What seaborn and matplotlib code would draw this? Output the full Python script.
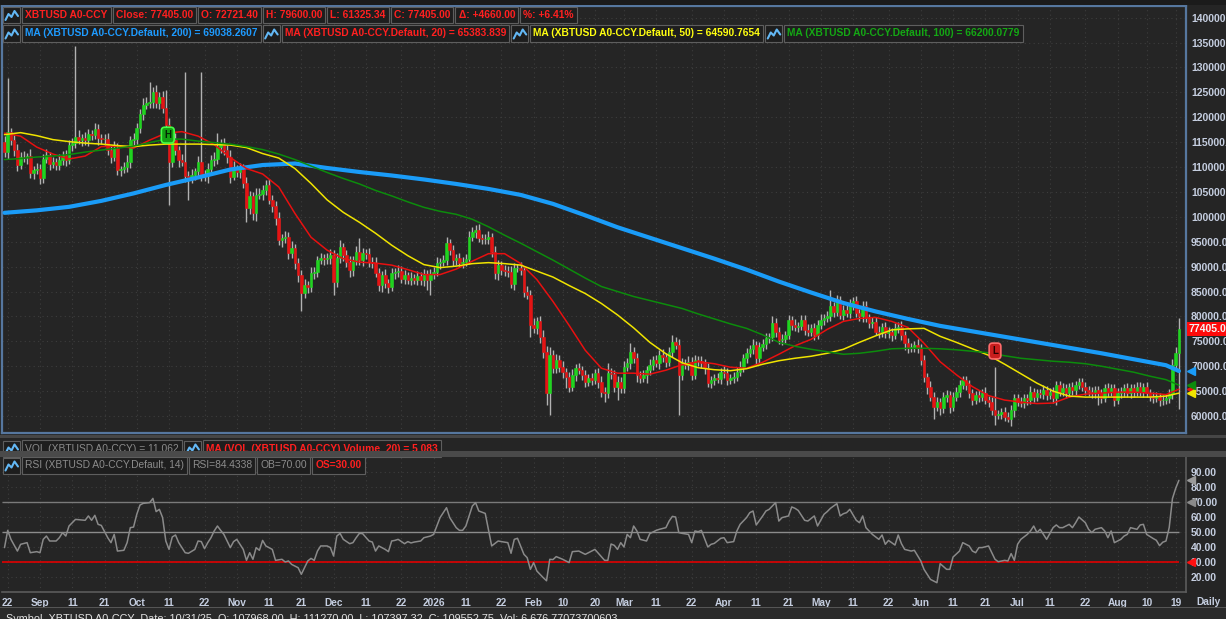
import numpy as np
import pandas as pd
import seaborn as sns
import matplotlib.pyplot as plt
import matplotlib.dates as mdates
from matplotlib.patches import Rectangle
from matplotlib.lines import Line2D
from matplotlib.transforms import blended_transform_factory as blend

# daily closes XBTUSD A0-CCY (thousand USD), first day 2025-08-21
closes = [
    113.0, 117.1, 115.4, 113.4, 110.4, 112.1, 112.0, 112.2, 108.7, 109.4,
    109.7, 107.7, 111.7, 112.4, 110.7, 111.0, 110.4, 111.4, 112.4, 111.5,
    114.4, 114.9, 116.1, 115.4, 115.8, 115.4, 116.6, 116.4, 117.6, 115.8,
    115.6, 115.7, 113.4, 112.1, 113.8, 109.4, 109.5, 110.0, 111.1, 115.4,
    115.6, 117.8, 120.7, 122.5, 122.9, 123.1, 125.1, 122.8, 124.1, 121.8,
    118.4, 111.1, 115.4, 113.4, 111.4, 111.1, 108.1, 107.7, 108.4, 109.1,
    111.1, 108.4, 108.1, 109.7, 111.4, 111.7, 114.1, 114.8, 113.4, 112.1,
    107.968, 109.55275, 109.0, 109.6, 106.7, 101.7, 104.1, 100.7, 104.4, 104.5,
    105.4, 106.4, 103.4, 102.1, 99.7, 95.4, 95.7, 96.0, 92.7, 93.7,
    90.7, 88.3, 84.7, 86.3, 85.9, 88.7, 89.0, 91.3, 91.7, 91.5,
    91.7, 92.4, 87.0, 91.7, 94.0, 92.4, 91.0, 89.3, 91.3, 93.0,
    91.3, 92.8, 92.5, 91.0, 90.8, 88.7, 86.3, 88.3, 86.7, 86.0,
    88.7, 89.0, 89.2, 87.6, 88.3, 87.4, 87.8, 87.4, 88.1, 87.3,
    88.5, 87.3, 88.5, 89.0, 90.7, 91.0, 91.3, 94.7, 93.3, 91.3,
    91.7, 90.8, 91.0, 91.5, 96.0, 97.0, 97.4, 95.7, 95.5, 95.6,
    95.9, 93.0, 88.7, 90.3, 89.3, 89.2, 89.0, 86.6, 89.7, 89.8,
    89.3, 85.0, 84.3, 78.3, 77.6, 79.0, 75.9, 72.9, 64.6, 72.3,
    69.6, 71.3, 69.9, 68.9, 67.9, 65.9, 68.2, 69.6, 69.2, 68.2,
    66.9, 67.6, 67.2, 68.6, 66.9, 64.9, 64.6, 68.6, 68.4, 65.9,
    66.9, 65.6, 69.9, 70.6, 72.9, 71.6, 68.2, 67.6, 68.2, 69.2,
    70.3, 71.3, 70.6, 72.3, 71.8, 70.9, 72.9, 74.9, 74.3, 68.2,
    70.6, 70.3, 70.9, 68.2, 71.3, 71.0, 70.6, 69.6, 66.6, 67.2,
    67.6, 67.4, 68.9, 68.7, 67.2, 67.6, 67.9, 68.9, 69.9, 71.6,
    72.6, 73.4, 74.3, 71.6, 73.9, 74.5, 75.6, 75.9, 78.6, 76.9,
    75.3, 75.4, 76.3, 79.2, 78.3, 77.9, 78.1, 79.3, 77.3, 76.9,
    77.6, 76.3, 78.3, 79.3, 79.6, 80.0, 82.0, 80.9, 83.3, 80.3,
    81.3, 80.6, 82.3, 83.0, 80.6, 80.0, 82.0, 79.6, 78.6, 78.9,
    76.9, 76.6, 77.9, 76.6, 76.9, 76.3, 77.6, 77.9, 76.3, 74.6,
    73.6, 73.8, 74.3, 73.6, 71.3, 67.9, 65.9, 63.9, 61.9, 62.9,
    61.6, 63.9, 64.2, 61.9, 63.9, 64.9, 66.2, 67.2, 66.2, 64.6,
    63.2, 64.2, 63.9, 64.6, 63.2, 62.9, 61.2, 60.2, 60.4, 60.9,
    59.9, 59.5, 61.2, 63.6, 62.9, 62.6, 63.6, 63.2, 64.9, 63.9,
    64.6, 64.4, 65.2, 64.2, 64.9, 63.6, 66.2, 64.9, 65.6, 64.6,
    65.9, 65.2, 66.2, 66.9, 65.9, 65.2, 64.9, 64.6, 65.2, 64.6,
    63.6, 65.6, 64.9, 65.6, 63.2, 64.6, 64.9, 65.6, 64.6, 65.6,
    64.9, 65.9, 64.9, 65.9, 64.6, 63.9, 63.6, 63.9, 63.2, 63.3,
    63.6, 64.5, 70.2, 72.745, 77.405,
]
first_open = 115.0
last_open = 72721.40

# wick length above / below the candle body (thousand USD)
upper_wick = [
    1.2, 10.8, 0.8, 1.0, 1.3, 0.9, 1.1, 0.6, 1.4, 0.8,
    1.2, 0.9, 1.0, 1.3, 0.7, 1.1, 0.8, 1.2, 0.9, 1.0,
    1.1, 0.9, 18.1, 1.4, 0.8, 1.2, 1.0, 0.9, 1.3, 1.1,
    0.8, 1.0, 1.2, 0.9, 1.4, 1.0, 0.8, 1.1, 1.3, 0.9,
    1.2, 1.0, 0.9, 1.4, 1.1, 4.0, 0.9, 1.3, 1.0, 1.2,
    3.7, 1.5, 1.1, 1.4, 0.9, 1.2, 18.0, 1.0, 1.3, 0.8,
    1.1, 18.0, 0.9, 1.2, 1.0, 1.3, 2.7, 0.8, 1.1, 1.0,
    1.4, 1.71725, 0.9, 1.2, 1.0, 1.3, 1.1, 0.9, 1.4, 1.2,
    1.0, 1.0, 1.2, 0.9, 1.1, 1.3, 0.8, 1.2, 1.0, 1.4,
    0.9, 1.1, 1.0, 1.3, 0.8, 1.2, 1.0, 0.9, 1.1, 0.8,
    1.0, 1.2, 0.9, 1.1, 1.3, 0.8, 1.0, 1.2, 0.9, 1.1,
    2.7, 1.0, 0.8, 1.2, 0.9, 1.1, 1.0, 0.8, 1.2, 0.9,
    1.0, 0.8, 1.1, 0.9, 1.0, 0.7, 1.2, 0.8, 1.0, 0.9,
    1.1, 0.8, 1.0, 0.9, 1.2, 0.8, 1.0, 1.3, 0.9, 1.1,
    0.8, 1.0, 0.9, 1.1, 1.2, 0.9, 1.0, 1.1, 0.8, 1.0,
    1.2, 0.9, 1.1, 1.0, 0.8, 1.1, 0.9, 1.2, 1.0, 0.8,
    1.1, 0.9, 1.2, 1.0, 1.3, 0.9, 1.1, 1.4, 1.2, 1.6,
    1.0, 1.2, 0.9, 1.1, 0.8, 1.0, 1.2, 0.9, 1.1, 0.8,
    1.0, 0.9, 1.1, 0.8, 1.0, 1.2, 0.9, 2.0, 1.0, 0.8,
    1.1, 0.9, 1.2, 1.0, 1.7, 0.9, 1.1, 0.8, 1.0, 0.9,
    1.1, 0.8, 1.0, 0.9, 1.2, 0.8, 1.0, 1.4, 0.9, 1.1,
    1.0, 0.8, 1.1, 0.9, 1.0, 0.8, 1.0, 0.9, 1.1, 0.8,
    0.9, 1.0, 0.8, 1.1, 0.9, 0.8, 1.0, 0.9, 1.1, 0.8,
    1.0, 0.9, 1.2, 0.8, 1.0, 0.9, 1.1, 0.8, 1.4, 1.0,
    0.9, 1.1, 0.8, 1.0, 0.9, 1.1, 0.8, 1.0, 0.9, 1.2,
    0.8, 1.0, 0.9, 1.1, 0.8, 1.0, 3.3, 0.9, 1.1, 0.8,
    1.0, 0.9, 1.1, 0.8, 1.0, 0.9, 1.0, 1.1, 0.8, 1.0,
    0.9, 1.1, 0.8, 1.0, 0.9, 0.8, 1.0, 0.9, 1.1, 0.8,
    1.0, 0.9, 0.8, 1.1, 0.9, 1.0, 0.8, 1.1, 0.9, 1.0,
    0.8, 0.9, 1.1, 0.8, 1.0, 0.9, 1.1, 0.9, 0.8, 1.0,
    0.9, 0.8, 1.0, 0.9, 1.2, 0.8, 1.0, 8.7, 0.9, 0.8,
    1.0, 0.9, 1.1, 0.8, 0.9, 1.0, 0.8, 0.9, 1.1, 0.8,
    0.9, 0.8, 1.0, 0.9, 0.8, 1.0, 0.9, 0.8, 1.0, 0.9,
    0.8, 1.0, 0.9, 0.8, 0.7, 0.9, 0.8, 1.0, 0.9, 0.8,
    0.9, 0.8, 1.0, 0.9, 0.8, 1.0, 0.9, 0.8, 1.0, 0.9,
    0.8, 0.9, 1.0, 0.8, 0.9, 0.8, 1.0, 0.9, 0.8, 0.9,
    0.8, 1.0, 1.2, 1.1, 2.195,
]
lower_wick = [
    1.0, 1.3, 0.9, 1.1, 1.2, 0.8, 1.0, 1.3, 0.9, 1.1,
    0.8, 1.2, 1.0, 0.9, 1.3, 0.8, 1.1, 1.0, 0.9, 1.2,
    0.9, 1.1, 1.0, 0.8, 1.2, 0.9, 1.1, 1.0, 0.8, 1.3,
    0.9, 1.1, 1.0, 1.2, 0.9, 1.1, 1.3, 0.8, 1.0, 1.2,
    1.0, 1.1, 0.9, 1.2, 0.8, 1.0, 1.3, 0.9, 1.1, 1.0,
    1.2, 8.7, 1.1, 1.0, 1.3, 0.9, 1.2, 4.3, 1.0, 1.1,
    0.9, 1.2, 1.0, 1.3, 0.9, 1.1, 1.0, 1.2, 0.9, 1.3,
    1.1, 0.57068, 1.0, 1.2, 0.9, 2.7, 1.1, 1.3, 1.6, 0.9,
    1.2, 1.0, 0.9, 1.1, 1.3, 1.0, 1.4, 0.9, 1.2, 1.0,
    1.1, 1.3, 3.7, 1.0, 1.2, 0.9, 1.1, 1.0, 0.8, 1.2,
    0.9, 1.1, 2.7, 1.0, 0.9, 1.2, 1.0, 1.3, 1.1, 0.9,
    1.0, 1.2, 0.9, 1.1, 1.0, 0.8, 1.2, 1.4, 1.0, 1.3,
    0.9, 1.1, 1.0, 0.8, 1.0, 0.9, 1.1, 0.8, 1.0, 0.9,
    1.1, 2.0, 2.9, 1.0, 0.9, 1.1, 0.8, 1.0, 0.9, 1.1,
    1.0, 0.9, 1.1, 0.8, 1.0, 0.9, 1.2, 0.8, 1.0, 0.9,
    1.1, 1.0, 1.2, 1.4, 0.9, 1.1, 1.0, 0.9, 1.2, 0.8,
    1.0, 1.1, 0.9, 2.4, 1.0, 1.1, 1.3, 1.2, 2.4, 4.4,
    1.0, 0.9, 1.1, 1.2, 2.3, 1.0, 0.9, 1.1, 0.8, 1.0,
    1.1, 0.9, 1.0, 0.8, 1.2, 1.0, 1.7, 0.9, 1.0, 1.1,
    2.7, 0.9, 1.0, 0.8, 1.1, 0.9, 1.3, 1.0, 0.8, 1.5,
    0.9, 1.0, 0.8, 1.1, 0.9, 1.0, 0.8, 1.1, 0.9, 8.0,
    1.0, 0.9, 1.1, 1.0, 0.8, 1.0, 0.9, 1.1, 0.7, 0.9,
    1.0, 0.8, 0.9, 1.1, 0.9, 0.8, 1.0, 0.9, 0.8, 1.0,
    0.9, 0.8, 1.0, 1.1, 0.9, 0.8, 1.0, 0.9, 0.8, 1.0,
    0.9, 1.0, 0.8, 0.9, 1.1, 0.8, 1.0, 0.9, 1.0, 0.8,
    0.9, 1.0, 0.8, 0.9, 1.0, 0.8, 0.9, 1.0, 0.8, 0.9,
    1.0, 0.8, 0.9, 1.0, 0.8, 0.9, 1.1, 0.8, 0.9, 1.0,
    0.6, 0.9, 0.8, 1.0, 0.9, 1.2, 0.8, 0.9, 1.0, 1.4,
    0.9, 0.8, 1.0, 0.9, 1.1, 1.0, 1.4, 0.9, 2.4, 0.8,
    1.3, 0.9, 1.0, 1.2, 0.8, 0.9, 1.0, 0.8, 0.9, 1.0,
    0.9, 0.8, 1.0, 0.9, 0.8, 1.0, 0.9, 2.0, 0.8, 0.9,
    1.0, 0.8, 1.6, 1.3, 0.9, 0.8, 1.0, 0.9, 0.8, 1.0,
    0.9, 0.8, 1.0, 0.9, 0.8, 1.0, 1.4, 0.8, 0.9, 1.0,
    0.8, 0.9, 1.0, 0.8, 0.9, 1.0, 0.8, 0.9, 1.0, 2.4,
    0.9, 0.8, 1.0, 0.9, 1.1, 0.8, 0.9, 1.0, 0.8, 0.9,
    1.0, 0.8, 0.9, 1.0, 0.8, 0.9, 1.0, 0.8, 1.2, 0.9,
    0.8, 0.9, 1.0, 0.8, 11.396,
]

# moving averages every 5 days (thousand USD)
ma_days = list(range(0, 361, 5)) + [364]
ma20 = [116.8, 116.2, 114.0, 112.6, 111.6, 112.2, 114.1, 114.2, 113.8, 115.4,
        116.8, 117.1, 116.2, 114.5, 111.9, 109.7, 108.6, 106.0, 100.7, 95.9,
        93.3, 91.6, 90.9, 90.7, 90.3, 89.4, 88.4, 88.4, 89.5, 91.1,
        92.6, 92.6, 90.6, 87.4, 83.0, 78.2, 73.2, 69.6, 68.6, 68.6,
        68.4, 69.2, 70.3, 70.9, 70.5, 69.8, 69.6, 70.8, 72.4, 74.1,
        75.4, 77.4, 79.0, 79.6, 79.8, 79.0, 77.8, 74.6, 70.9, 68.3,
        65.9, 64.1, 63.2, 62.8, 62.5, 62.6, 63.8, 64.4, 64.6, 64.8,
        64.8, 64.6, 64.3, 65.383839]
ma50 = [116.5, 116.9, 116.3, 115.5, 115.1, 114.8, 114.6, 114.3, 114.1, 114.4,
        114.6, 114.6, 114.6, 114.5, 114.4, 113.9, 112.7, 111.8, 109.7, 106.7,
        103.4, 100.9, 98.9, 96.7, 94.3, 92.2, 90.4, 89.8, 90.1, 90.6,
        90.8, 90.6, 90.3, 89.1, 87.9, 86.2, 84.6, 82.6, 80.3, 77.7,
        74.8, 72.5, 70.7, 69.7, 69.3, 69.1, 69.5, 70.4, 71.1, 71.6,
        72.0, 72.6, 73.4, 74.8, 76.1, 77.3, 77.5, 77.6, 76.0, 74.8,
        73.5, 72.2, 70.4, 68.5, 66.6, 65.0, 64.0, 63.8, 63.8, 63.8,
        63.8, 63.8, 64.0, 64.5907654]
ma100 = [111.5, 111.7, 112.0, 112.2, 112.5, 113.0, 113.4, 113.8, 114.2, 114.9,
         115.6, 115.6, 115.2, 114.9, 114.6, 114.1, 113.5, 112.6, 111.5, 110.2,
         108.9, 107.7, 106.6, 105.3, 104.2, 103.0, 101.9, 101.1, 100.5, 99.5,
         98.0, 96.3, 94.7, 93.0, 91.3, 89.5, 87.7, 86.0, 85.0, 84.0,
         83.2, 82.4, 81.6, 80.5, 79.5, 78.5, 77.6, 76.3, 74.8, 74.0,
         73.4, 72.9, 72.4, 72.6, 73.0, 73.5, 73.6, 73.6, 73.5, 73.3,
         73.0, 72.7, 72.1, 71.6, 71.3, 71.0, 70.8, 70.5, 70.0, 69.4,
         68.8, 68.0, 67.3, 66.2000779]
ma200_days = list(range(0, 361, 10)) + [364]
ma200 = [100.8, 101.3, 102.0, 103.2, 104.7, 106.4, 107.9, 109.5, 110.4, 110.7,
         109.8, 109.0, 108.3, 107.5, 106.6, 105.6, 104.4, 102.6, 100.3, 97.9,
         95.8, 93.7, 91.6, 89.4, 87.0, 84.8, 82.7, 81.0, 79.5, 78.1,
         77.0, 75.9, 74.8, 73.7, 72.6, 71.4, 70.2, 69.0382607]

# RSI(14)
rsi_days = [
    0, 1, 2, 4, 5, 7, 8, 10, 11, 12,
    13, 14, 16, 17, 18, 19, 20, 21, 22, 24,
    25, 26, 27, 28, 29, 30, 32, 33, 34, 35,
    37, 38, 39, 40, 41, 42, 43, 45, 46, 47,
    48, 49, 50, 51, 52, 53, 54, 55, 56, 57,
    59, 60, 61, 62, 63, 64, 65, 66, 67, 68,
    70, 71, 72, 74, 75, 76, 77, 78, 79, 80,
    81, 83, 84, 86, 87, 88, 89, 91, 92, 94,
    95, 96, 97, 98, 100, 101, 102, 103, 104, 105,
    107, 108, 109, 110, 111, 113, 114, 115, 116, 118,
    119, 120, 121, 122, 124, 125, 126, 127, 129, 130,
    132, 133, 134, 135, 137, 138, 140, 141, 142, 143,
    145, 146, 147, 149, 151, 153, 154, 156, 157, 158,
    159, 161, 162, 163, 164, 165, 167, 168, 169, 170,
    171, 173, 175, 176, 178, 180, 182, 183, 186, 187,
    188, 189, 190, 191, 192, 193, 194, 195, 196, 197,
    199, 200, 201, 202, 203, 205, 206, 207, 208, 209,
    210, 212, 213, 214, 215, 216, 218, 219, 220, 222,
    223, 224, 226, 227, 228, 230, 231, 232, 233, 235,
    236, 237, 239, 240, 241, 243, 244, 245, 246, 248,
    249, 251, 252, 254, 255, 256, 258, 259, 260, 261,
    262, 264, 265, 266, 267, 269, 271, 272, 273, 274,
    276, 277, 278, 279, 281, 282, 284, 285, 286, 287,
    289, 290, 292, 293, 294, 296, 297, 299, 300, 301,
    302, 303, 305, 306, 307, 308, 310, 311, 312, 313,
    314, 315, 317, 318, 319, 320, 321, 322, 323, 325,
    326, 327, 328, 330, 331, 332, 333, 335, 336, 337,
    338, 340, 341, 342, 343, 344, 346, 347, 348, 349,
    351, 352, 353, 354, 356, 357, 358, 359, 360, 361,
    362, 363, 364,
]
rsi_vals = [
    39.6, 51.1, 45.1, 37.3, 41.8, 42.9, 36.2, 36.9, 36.2, 45.1,
    47.3, 44.0, 44.0, 46.2, 49.6, 47.3, 54.0, 56.2, 58.4, 58.0,
    57.8, 60.7, 57.8, 61.1, 55.1, 54.4, 46.2, 42.9, 48.4, 37.3,
    37.8, 42.9, 52.9, 53.3, 61.8, 68.0, 69.1, 69.6, 72.4, 63.6,
    65.1, 59.6, 44.0, 38.4, 46.7, 48.0, 42.9, 39.6, 36.2, 35.8,
    38.4, 44.0, 43.6, 38.9, 42.9, 46.2, 50.7, 54.0, 51.1, 48.4,
    39.6, 43.6, 45.1, 38.4, 31.1, 36.2, 31.8, 39.6, 37.8, 44.4,
    40.7, 38.4, 31.1, 31.8, 30.0, 30.7, 28.4, 26.2, 21.8, 30.7,
    32.4, 31.1, 37.3, 40.7, 40.7, 39.6, 34.0, 47.3, 49.1, 45.1,
    42.2, 42.9, 46.2, 49.1, 48.9, 44.0, 43.3, 37.3, 40.7, 38.4,
    36.9, 44.0, 44.4, 45.1, 42.2, 43.6, 42.7, 43.3, 44.0, 46.2,
    47.3, 48.4, 54.0, 59.6, 66.2, 59.6, 52.9, 51.1, 51.1, 54.0,
    67.3, 69.6, 64.0, 62.4, 40.7, 44.0, 43.6, 42.9, 35.8, 45.1,
    45.8, 35.1, 32.9, 25.1, 29.6, 24.0, 19.5, 17.5, 31.8, 31.6,
    33.6, 31.8, 29.6, 36.9, 37.3, 35.1, 37.3, 38.4, 31.1, 31.1,
    42.0, 41.1, 38.4, 42.9, 40.0, 48.4, 46.2, 54.0, 50.7, 45.1,
    44.0, 48.9, 50.0, 51.1, 51.8, 52.9, 57.3, 60.4, 60.0, 49.6,
    49.1, 48.4, 42.9, 50.7, 50.2, 51.1, 40.0, 41.8, 42.4, 45.8,
    46.2, 42.9, 43.6, 50.7, 55.1, 59.6, 62.9, 64.0, 54.7, 60.7,
    64.0, 65.1, 69.6, 57.3, 59.6, 60.7, 66.7, 65.8, 64.4, 57.8,
    57.3, 60.7, 54.0, 61.8, 63.6, 65.8, 68.9, 60.7, 62.2, 62.9,
    65.1, 57.8, 56.2, 60.7, 52.9, 48.4, 45.1, 48.0, 41.8, 44.4,
    41.3, 48.0, 42.2, 38.4, 37.3, 37.8, 30.7, 25.1, 21.8, 18.4,
    16.2, 28.9, 25.1, 25.1, 33.3, 37.3, 42.9, 40.7, 37.3, 36.2,
    39.6, 39.6, 40.7, 36.2, 31.8, 30.2, 31.1, 30.7, 35.6, 31.1,
    41.8, 45.1, 48.4, 50.7, 54.0, 49.6, 51.8, 48.4, 45.1, 52.9,
    54.7, 52.9, 52.9, 55.1, 52.9, 56.2, 60.0, 56.2, 51.8, 49.6,
    51.8, 52.9, 50.7, 46.2, 50.7, 42.9, 45.1, 47.3, 48.4, 52.9,
    51.8, 54.7, 55.1, 48.4, 45.7, 44.5, 40.9, 43.2, 44.0, 53.0,
    72.3, 79.1, 84.4338,
]

tick_dates = ["2025-08-22", "2025-09-01", "2025-09-11", "2025-09-21", "2025-10-01",
              "2025-10-11", "2025-10-22", "2025-11-01", "2025-11-11", "2025-11-21",
              "2025-12-01", "2025-12-11", "2025-12-22", "2026-01-01", "2026-01-11",
              "2026-01-22", "2026-02-01", "2026-02-10", "2026-02-20", "2026-03-01",
              "2026-03-11", "2026-03-22", "2026-04-01", "2026-04-11", "2026-04-21",
              "2026-05-01", "2026-05-11", "2026-05-22", "2026-06-01", "2026-06-11",
              "2026-06-21", "2026-07-01", "2026-07-11", "2026-07-22", "2026-08-01",
              "2026-08-10", "2026-08-19"]
tick_labels = ["22", "Sep", "11", "21", "Oct", "11", "22", "Nov", "11", "21",
               "Dec", "11", "22", "2026", "11", "22", "Feb", "10", "20", "Mar",
               "11", "22", "Apr", "11", "21", "May", "11", "22", "Jun", "11",
               "21", "Jul", "11", "22", "Aug", "10", "19"]

last_bar = {"O": 72721.40, "H": 79600.00, "L": 61325.34, "C": 77405.00,
            "chg": 4660.00, "pct": 6.41}
ma_periods = [200, 20, 50, 100]
ma_last = ["69038.2607", "65383.839", "64590.7654", "66200.0779"]
vol_last, vol_ma_last = "11,062", "5,083"
rsi_last = "84.4338"
status = ("Symbol  XBTUSD A0-CCY  Date: 10/31/25  O: 107968.00  H: 111270.00  "
          "L: 107397.32  C: 109552.75  Vol: 6,676.77073700603")
h_mark = (50.6, 116400)
l_mark = (307.0, 73050)

# ---------------------------------------------------------------
sns.set_theme(style="dark")
plt.rcParams['font.family'] = ['Liberation Sans', 'DejaVu Sans']
plt.rcParams['axes.unicode_minus'] = False

W, H = 1226, 619
BG = '#252525'
C_BLUE, C_RED, C_YEL, C_GRN = '#1a9cf8', '#e81010', '#f0e400', '#0c8c0c'
TXT = '#c5cee0'
AX_FS = 7.5

fig = plt.figure(figsize=(W / 100, H / 100), dpi=100, facecolor=BG)


def frect(x0, y0, x1, y1):
    return [x0 / W, 1 - y1 / H, (x1 - x0) / W, (y1 - y0) / H]


def band(x0, y0, x1, y1, color, z=1):
    fig.add_artist(Rectangle((x0 / W, 1 - y1 / H), (x1 - x0) / W, (y1 - y0) / H,
                             transform=fig.transFigure, fc=color, ec='none', zorder=z))


dates = pd.date_range('2025-08-21', periods=len(closes), freq='D')
xd = mdates.date2num(dates)
close = np.array(closes) * 1000
open_ = np.r_[first_open * 1000, close[:-1]]
open_[-1] = last_open
top = np.maximum(open_, close)
bot = np.minimum(open_, close)
high = top + np.array(upper_wick) * 1000
low = bot - np.array(lower_wick) * 1000
cols = np.where(close >= open_, '#1fd41f', '#e41414')

x_left, x_right = xd[0] - 0.775, xd[0] + 366.2
ticks_x = mdates.date2num(pd.to_datetime(tick_dates))
grid_kw = dict(color='#3d3d3d', linestyle=(0, (1, 3)), linewidth=0.8)

# bands / frames
band(0, 0, W, 5, '#1b1b1b')
band(0, 435, W, 438, '#464646')
band(0, 606.5, W, 608, '#555555')
band(0, 608, W, H, '#2a2a2a')

ax = fig.add_axes(frect(2, 6, 1186, 433))
axv = fig.add_axes(frect(2, 439, 1186, 451))
axr = fig.add_axes(frect(2, 457, 1186, 592))
for a in (ax, axv, axr):
    a.set_facecolor(BG)
    a.set_xlim(x_left, x_right)

# ---- price panel
ax.set_ylim(56590, 142330)
yt = np.arange(60000, 140001, 5000)
ax.set_yticks(yt, labels=[f"{v:.2f}" for v in yt], fontsize=AX_FS, fontweight='bold', color=TXT)
ax.yaxis.tick_right()
ax.set_xticks(ticks_x)
ax.tick_params(axis='x', length=0, labelbottom=False)
ax.tick_params(axis='y', length=0, pad=3.6)
ax.grid(True, **grid_kw)
for s in ax.spines.values():
    s.set_color('#56779f')
    s.set_linewidth(1.6)

ax.vlines(xd, low, high, color='#b2b2b2', lw=1, zorder=2)
ax.bar(xd, top - bot, bottom=bot, width=0.8, color=cols, edgecolor=cols, lw=0.4, zorder=3)

ma_x = xd[0] + np.array(ma_days)
sns.lineplot(x=xd[0] + np.array(ma200_days), y=np.array(ma200) * 1000, ax=ax,
             color=C_BLUE, lw=3.0, zorder=4)
sns.lineplot(x=ma_x, y=np.array(ma20) * 1000, ax=ax, color=C_RED, lw=1.1, zorder=5)
sns.lineplot(x=ma_x, y=np.array(ma50) * 1000, ax=ax, color=C_YEL, lw=1.1, zorder=5)
sns.lineplot(x=ma_x, y=np.array(ma100) * 1000, ax=ax, color=C_GRN, lw=1.1, zorder=5)
ax.set_xlabel('')
ax.set_ylabel('')

for (d, p), s, fc, ec, tc in [(h_mark, 'H', '#13a013', '#46ff46', '#052205'),
                               (l_mark, 'L', '#c81e1e', '#ff6a6a', '#2a0000')]:
    ax.text(xd[0] + d, p, s, ha='center', va='center', fontsize=7, fontweight='bold',
            color=tc, zorder=7,
            bbox=dict(boxstyle='round,pad=0.3,rounding_size=0.35', fc=fc, ec=ec, lw=1.2))

tr = blend(ax.transAxes, ax.transData)
for val, col in zip([float(v) for v in ma_last], [C_BLUE, C_RED, C_YEL, C_GRN]):
    ax.plot([1.004], [val], marker='<', ms=6, color=col, transform=tr, clip_on=False, zorder=8)
ax.text(1.0025, last_bar["C"], f"{last_bar['C']:.2f}", transform=tr, ha='left', va='center',
        fontsize=AX_FS, fontweight='bold', color='#f4f4f4', zorder=9,
        bbox=dict(boxstyle='square,pad=0.2', fc='#ff0a0a', ec='none'))

# ---- volume panel (collapsed)
axv.set_xticks([])
axv.set_yticks([])
for s in axv.spines.values():
    s.set_visible(False)

# ---- RSI panel
axr.set_ylim(10, 100)
rt = np.arange(20, 91, 10)
axr.set_yticks(rt, labels=[f"{v:.2f}" for v in rt], fontsize=AX_FS, fontweight='bold', color=TXT)
axr.yaxis.tick_right()
axr.set_xticks(ticks_x, labels=tick_labels, fontsize=7.3, fontweight='bold', color=TXT)
axr.tick_params(axis='y', length=0, pad=3.6)
axr.tick_params(axis='x', length=0, pad=4.2)
axr.grid(True, **grid_kw)
for k, s in axr.spines.items():
    s.set_color('#5c5c5c')
    s.set_linewidth(1.2)
    s.set_visible(k in ('right', 'bottom'))

axr.hlines(70, x_left, xd[-1], color='#7a7a7a', lw=1, zorder=2)
axr.hlines(50, x_left, xd[-1], color='#8c8c8c', lw=1, zorder=2)
axr.hlines(30, x_left, xd[-1], color='#e00000', lw=1.2, zorder=2)
sns.lineplot(x=xd[0] + np.array(rsi_days), y=rsi_vals, ax=axr, color='#8a8a8a', lw=1.1, zorder=3)
axr.set_xlabel('')
axr.set_ylabel('')
trr = blend(axr.transAxes, axr.transData)
for val, col in [(float(rsi_last), '#9a9a9a'), (70, '#8a8a8a'), (30, '#ff1010')]:
    axr.plot([1.004], [val], marker='<', ms=5.5, color=col, transform=trr, clip_on=False, zorder=8)

fig.text(1196 / W, 1 - 602 / H, 'Daily', fontsize=7.3, fontweight='bold', color=TXT,
         ha='left', va='center')
fig.text(6 / W, 1 - 621.5 / H, status, fontsize=7.8, color='#e2e2e2', ha='left',
         va='baseline', zorder=5)

# ---- legend boxes
renderer = fig.canvas.get_renderer()
FS, PADF = 7.4, 0.3
PADPX = PADF * FS * 100 / 72


def draw_icon(x, ym, z):
    fig.add_artist(Rectangle((x / W, 1 - (ym + 8) / H), 17 / W, 16 / H,
                             transform=fig.transFigure, fc='#1d1d1d', ec='#5e5e5e',
                             lw=0.8, zorder=z))
    xs = x + np.array([2.5, 5.5, 8.5, 11.5, 15.0])
    ys = ym + np.array([5.0, -1.0, 2.0, -4.0, 1.0])
    fig.add_artist(Line2D(xs / W, 1 - ys / H, transform=fig.transFigure,
                          color='#63b8f5', lw=1.5, zorder=z + 0.1))


def legend_row(x, ym, items, z=5):
    for icon, s, col, wt in items:
        if icon:
            draw_icon(x, ym, z)
            x += 19
        t = fig.text((x + PADPX) / W, 1 - ym / H, s, color=col, fontsize=FS, fontweight=wt,
                     ha='left', va='center', zorder=z,
                     bbox=dict(boxstyle=f'square,pad={PADF}', fc='#1e1e1e', ec='#5e5e5e', lw=0.8))
        bb = t.get_window_extent(renderer)
        x = bb.x1 + PADPX + 2


RED_T = '#ff2020'
legend_row(3, 15, [
    (True, 'XBTUSD A0-CCY', RED_T, 'bold'),
    (False, f"Close: {last_bar['C']:.2f}", RED_T, 'bold'),
    (False, f"O: {last_bar['O']:.2f}", RED_T, 'bold'),
    (False, f"H: {last_bar['H']:.2f}", RED_T, 'bold'),
    (False, f"L: {last_bar['L']:.2f}", RED_T, 'bold'),
    (False, f"C: {last_bar['C']:.2f}", RED_T, 'bold'),
    (False, f"\u0394: +{last_bar['chg']:.2f}", RED_T, 'bold'),
    (False, f"%: +{last_bar['pct']:.2f}%", RED_T, 'bold'),
])
legend_row(3, 33.5, [
    (True, f"MA (XBTUSD A0-CCY.Default, {p}) = {v}", c, 'bold')
    for p, v, c in zip(ma_periods, ma_last, ['#1e9bff', RED_T, '#ffff10', '#14a814'])
])
legend_row(3, 448.5, [
    (True, f"VOL (XBTUSD A0-CCY) = {vol_last}", '#8a8a8a', 'normal'),
    (True, f"MA (VOL (XBTUSD A0-CCY) Volume, 20) = {vol_ma_last}", RED_T, 'bold'),
])
band(0, 451, W, 456.5, '#4a4a4a', z=8)
legend_row(3, 465.5, [
    (True, 'RSI (XBTUSD A0-CCY.Default, 14)', '#8c8c8c', 'normal'),
    (False, f"RSI={rsi_last}", '#8c8c8c', 'normal'),
    (False, 'OB=70.00', '#8c8c8c', 'normal'),
    (False, 'OS=30.00', RED_T, 'bold'),
])

fig.savefig('out.png', dpi=100, facecolor=BG)
